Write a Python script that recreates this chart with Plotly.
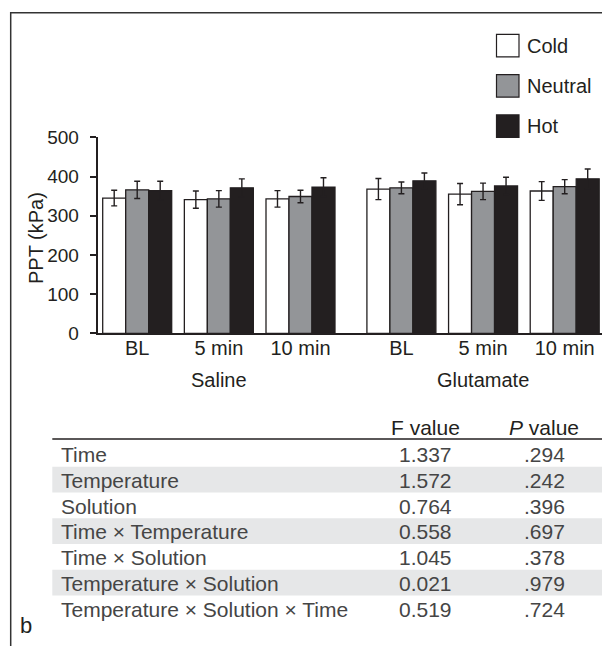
import plotly.graph_objects as go

W, H = 602, 646

# ---------------- data ----------------
solutions = ["Saline", "Glutamate"]
times = ["BL", "5 min", "10 min"]
temps = ["Cold", "Neutral", "Hot"]

cold_mean = [345, 341, 343, 368, 355, 363]
cold_err = [20, 22, 21, 27, 27, 24]
neutral_mean = [366, 343, 349, 371, 362, 374]
neutral_err = [22, 21, 16, 15, 21, 18]
hot_mean = [364, 371, 373, 389, 376, 394]
hot_err = [24, 23, 24, 20, 22, 25]

y_ticks = [0, 100, 200, 300, 400, 500]

tbl_header = ["", "F value", "<i>P</i> value"]
tbl_effects = ["Time", "Temperature", "Solution", "Time × Temperature",
               "Time × Solution", "Temperature × Solution",
               "Temperature × Solution × Time"]
tbl_f = ["1.337", "1.572", "0.764", "0.558", "1.045", "0.021", "0.519"]
tbl_p = [".294", ".242", ".396", ".697", ".378", ".979", ".724"]

# ---------------- style ----------------
FONT = "Liberation Sans, Arial, Helvetica, sans-serif"
FS = 20
TFS = 21
INK = "#231f20"
TINK = "#454545"
fills = {"Cold": "#ffffff", "Neutral": "#939598", "Hot": "#231f20"}
BAND = "#e6e7e8"
GAP = 0.236  # extra space between solution groups (in category units)


def px(x):
    return x / W


def py(y):
    return 1 - y / H


# x positions of the six time groups
xpos = []
xlab = []
for s_i, s in enumerate(solutions):
    for t_i, t in enumerate(times):
        xpos.append(s_i * len(times) + t_i + s_i * GAP)
        xlab.append(t)

series = [
    ("Cold", cold_mean, cold_err),
    ("Neutral", neutral_mean, neutral_err),
    ("Hot", hot_mean, hot_err),
]

fig = go.Figure()
for name, mean, err in series:
    fig.add_trace(go.Bar(
        x=xpos, y=mean, name=name,
        marker=dict(color=fills[name], line=dict(color=INK, width=1.3)),
        error_y=dict(type="data", array=err, visible=True,
                     color=INK, thickness=1.4, width=3),
        showlegend=False,
    ))

shapes = []
annotations = []

# outer frame (left and top edges)
shapes.append(dict(type="path", xref="paper", yref="paper",
                   path=f"M {px(10.7)},{py(646)} L {px(10.7)},{py(12.7)} L {px(602)},{py(12.7)}",
                   line=dict(color="#333333", width=1.5)))

# ---------------- table (bands + text) ----------------
TBL_X0 = 52.3
ROW0 = 441.0
ROW_H = 25.75
col_x = [59.3, 425, 544]
col_anchor = ["left", "center", "center"]

shapes.append(dict(type="line", xref="paper", yref="paper",
                   x0=px(TBL_X0), x1=1, y0=py(439), y1=py(439),
                   line=dict(color=INK, width=1.5)))
for c, h in enumerate(tbl_header):
    if h:
        annotations.append(dict(xref="paper", yref="paper", x=px(col_x[c]), y=py(427),
                                text=h, showarrow=False, xanchor=col_anchor[c],
                                yanchor="middle",
                                font=dict(family=FONT, size=TFS, color=INK)))

columns = [tbl_effects, tbl_f, tbl_p]
for r in range(len(tbl_effects)):
    top = ROW0 + ROW_H * r
    if r % 2 == 1:
        shapes.append(dict(type="rect", xref="paper", yref="paper",
                           x0=px(TBL_X0), x1=1, y0=py(top + ROW_H), y1=py(top),
                           fillcolor=BAND, line=dict(width=0), layer="below"))
    for c, col in enumerate(columns):
        annotations.append(dict(xref="paper", yref="paper", x=px(col_x[c]),
                                y=py(top + ROW_H / 2 + 0.8),
                                text=col[r], showarrow=False, xanchor=col_anchor[c],
                                yanchor="middle",
                                font=dict(family=FONT, size=TFS, color=TINK)))

# legend (boxes + labels)
for i, (name, _, _) in enumerate(series):
    top = 34.3 + 40.3 * i
    shapes.append(dict(type="rect", xref="paper", yref="paper",
                       x0=px(496.5), x1=px(519), y0=py(top + 22.5), y1=py(top),
                       fillcolor=fills[name], line=dict(color=INK, width=1.2)))
    annotations.append(dict(xref="paper", yref="paper", x=px(524.5), y=py(top + 11.5),
                            text=name, showarrow=False, xanchor="left", yanchor="middle",
                            font=dict(family=FONT, size=FS, color=INK)))

# solution group labels, centered under the middle time point of each group
for s_i, s in enumerate(solutions):
    mid = xpos[s_i * len(times) + 1]
    annotations.append(dict(xref="x", yref="paper", x=mid, y=py(380),
                            text=s, showarrow=False, xanchor="center", yanchor="middle",
                            font=dict(family=FONT, size=FS, color=INK)))

# y axis title
annotations.append(dict(xref="paper", yref="paper", x=px(36), y=py(238),
                        text="PPT (kPa)", textangle=-90, showarrow=False,
                        xanchor="center", yanchor="middle",
                        font=dict(family=FONT, size=FS, color=INK)))
# panel letter
annotations.append(dict(xref="paper", yref="paper", x=px(26), y=py(625),
                        text="b", showarrow=False, xanchor="center", yanchor="middle",
                        font=dict(family=FONT, size=22, color=INK)))

unit = 81.65
x_left = xpos[0] - (137.2 - 97.5) / unit
x_right = xpos[-1] + (602 - 564.7) / unit

fig.update_layout(
    width=W, height=H,
    margin=dict(l=0, r=0, t=0, b=0),
    paper_bgcolor="white", plot_bgcolor="white",
    barmode="group", bargap=0.155, bargroupgap=0,
    showlegend=False,
    font=dict(family=FONT, size=FS, color=INK),
    xaxis=dict(domain=[px(97.5), 1], range=[x_left, x_right],
               tickmode="array", tickvals=xpos, ticktext=xlab,
               ticks="", showgrid=False, zeroline=False,
               showline=True, linecolor=INK, linewidth=1.5,
               tickfont=dict(family=FONT, size=FS, color=INK),
               ticklabelstandoff=-4,
               automargin=False, fixedrange=True),
    yaxis=dict(domain=[py(333.3), py(137.3)], range=[0, 500],
               tickmode="array", tickvals=y_ticks,
               ticks="outside", ticklen=6, tickwidth=1.5, tickcolor=INK,
               showgrid=False, zeroline=False,
               showline=True, linecolor=INK, linewidth=1.5,
               tickfont=dict(family=FONT, size=19, color=INK),
               ticklabelstandoff=7,
               automargin=False, fixedrange=True),
    shapes=shapes,
    annotations=annotations,
)

fig.write_html("out.html")
